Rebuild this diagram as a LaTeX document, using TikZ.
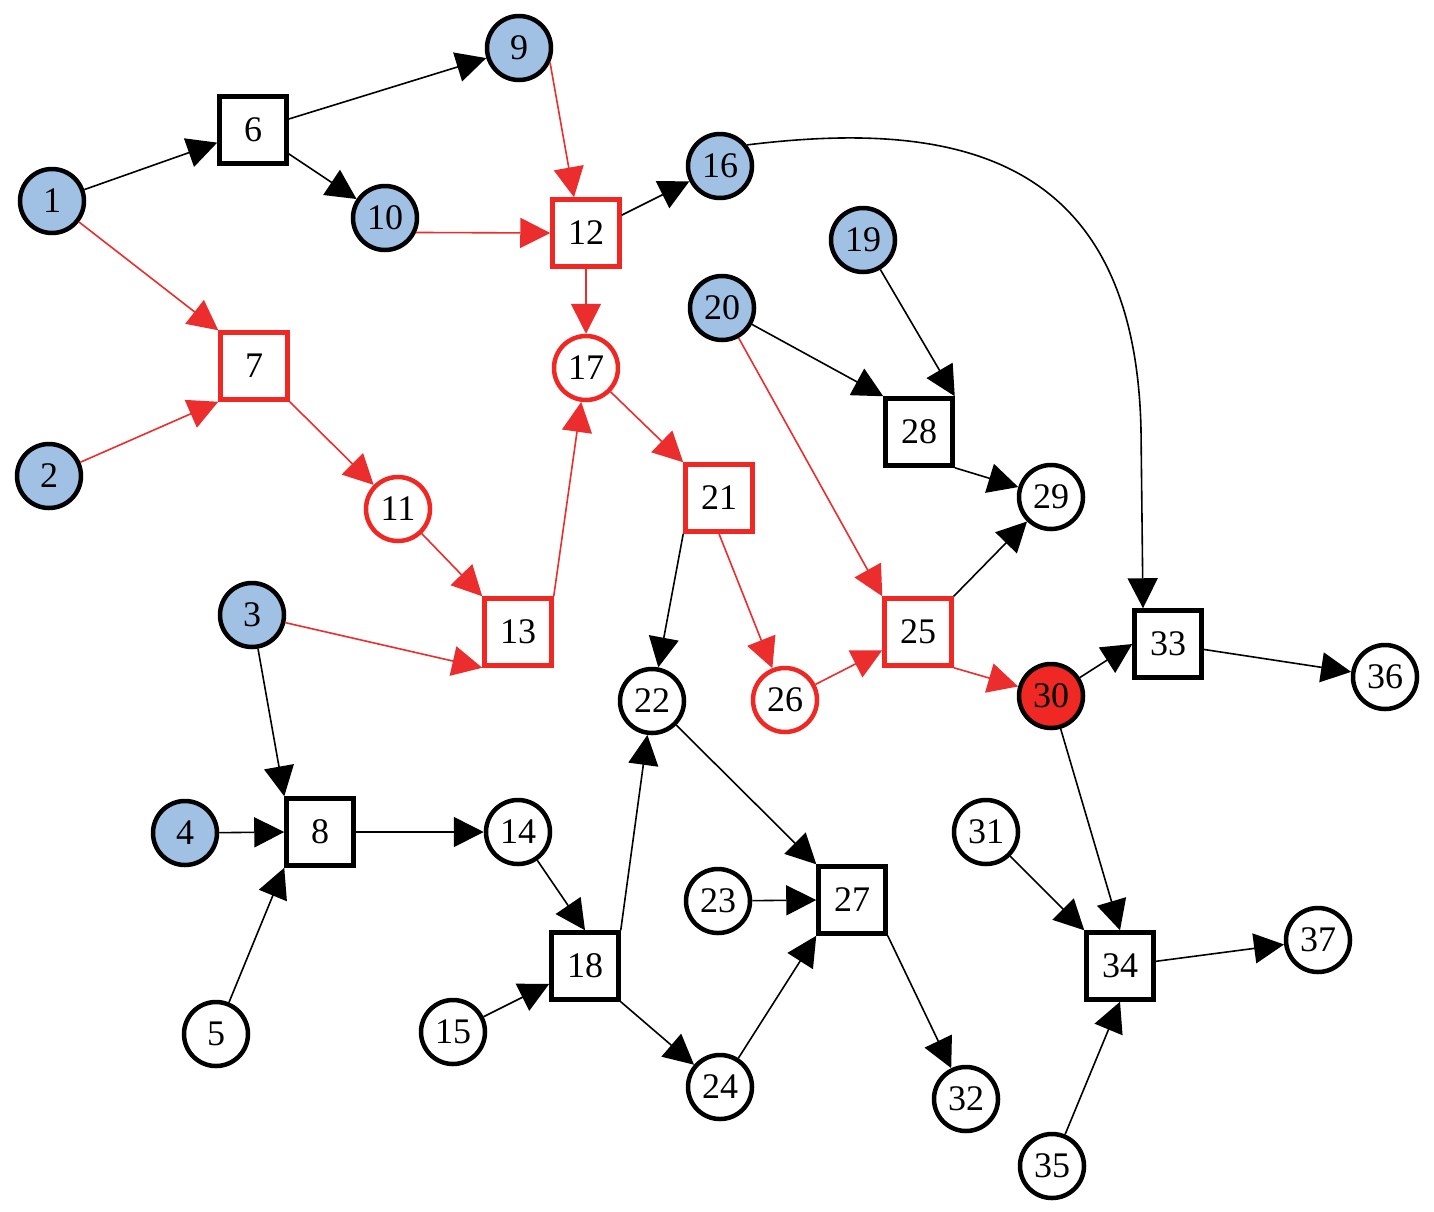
\documentclass[tikz,border=0pt]{standalone}
\usepackage{fontspec}
\setmainfont{Liberation Serif}
\usetikzlibrary{arrows.meta}
\definecolor{nblue}{RGB}{160,192,228}
\definecolor{nred}{RGB}{240,40,35}
\definecolor{ered}{RGB}{235,45,45}
\tikzset{
  base/.style={draw=black,line width=4.5pt,inner sep=0pt,font=\fontsize{36}{36}\selectfont,fill=white},
  circ/.style={base,circle,minimum size=64pt},
  sq/.style={base,rectangle,minimum size=67pt},
  src/.style={circ,fill=nblue},
  rcirc/.style={circ,draw=nred},
  rsq/.style={sq,draw=nred},
  hot/.style={circ,fill=nred},
  edge/.style={line width=1.6pt,draw=black,-{Triangle[length=30pt,width=30pt]}},
  redge/.style={edge,draw=ered,-{Triangle[length=30pt,width=30pt,fill=ered]}},
}
\begin{document}
\begin{tikzpicture}[x=1pt,y=-1pt]
\useasboundingbox (0,0) rectangle (1434,1211);
% nodes
\node[src] (n1) at (52,201) {1};
\node[src] (n2) at (49,476) {2};
\node[src] (n3) at (252,615) {3};
\node[src] (n4) at (185,833) {4};
\node[circ] (n5) at (216,1034) {5};
\node[sq] (n6) at (253,130) {6};
\node[rsq] (n7) at (254,366) {7};
\node[sq] (n8) at (320,832) {8};
\node[src] (n9) at (519,48) {9};
\node[src] (n10) at (385,218) {10};
\node[rcirc] (n11) at (398,509) {11};
\node[rsq] (n12) at (586,233) {12};
\node[rsq] (n13) at (518,632) {13};
\node[circ] (n14) at (518,832) {14};
\node[circ] (n15) at (453,1032) {15};
\node[src] (n16) at (720,166) {16};
\node[rcirc] (n17) at (586,368) {17};
\node[sq] (n18) at (585,966) {18};
\node[src] (n19) at (863,240) {19};
\node[src] (n20) at (722,308) {20};
\node[rsq] (n21) at (719,498) {21};
\node[circ] (n22) at (652,701) {22};
\node[circ] (n23) at (718,901) {23};
\node[circ] (n24) at (720,1087) {24};
\node[rsq] (n25) at (918,632) {25};
\node[rcirc] (n26) at (785,700) {26};
\node[sq] (n27) at (852,900) {27};
\node[sq] (n28) at (919,432) {28};
\node[circ] (n29) at (1051,497) {29};
\node[hot] (n30) at (1051,696) {30};
\node[circ] (n31) at (986,832) {31};
\node[circ] (n32) at (966,1099) {32};
\node[sq] (n33) at (1168,644) {33};
\node[sq] (n34) at (1120,966) {34};
\node[circ] (n35) at (1052,1166) {35};
\node[circ] (n36) at (1385,677) {36};
\node[circ] (n37) at (1318,940) {37};
% black edges
\draw[edge] (n1) -- (n6);
\draw[edge] (n6) -- (n9);
\draw[edge] (n6) -- (n10);
\draw[edge] (n12) -- (n16);
\draw[edge] (n21.south west) -- (n22);
\draw[edge] (n20) -- (n28.north west);
\draw[edge] (n19) -- (n28.north east);
\draw[edge] (n28.south east) -- (n29);
\draw[edge] (n25.north east) -- (n29);
\draw[edge] (n16.38) .. controls (950,120) and (1135,150) .. (1141,430) -- ([xshift=-25pt]n33.north);
\draw[edge] (n30) -- (n33.west);
\draw[edge] (n30) -- (n34.north);
\draw[edge] (n33) -- (n36);
\draw[edge] (n3) -- (n8.north west);
\draw[edge] (n4) -- (n8.west);
\draw[edge] (n5) -- (n8.south west);
\draw[edge] (n8) -- (n14);
\draw[edge] (n14) -- (n18.north);
\draw[edge] (n15) -- (n18);
\draw[edge] (n18.north east) -- (n22);
\draw[edge] (n18.south east) -- (n24);
\draw[edge] (n22) -- (n27.north west);
\draw[edge] (n23) -- (n27.west);
\draw[edge] (n24) -- (n27.south west);
\draw[edge] (n27.south east) -- (n32);
\draw[edge] (n31) -- (n34.north west);
\draw[edge] (n35) -- (n34.south);
\draw[edge] (n34) -- (n37);
% red edges
\draw[redge] (n1) -- (n7.north west);
\draw[redge] (n2) -- (n7.south west);
\draw[redge] (n9.-25) -- ([xshift=-12pt]n12.north);
\draw[redge] (n10.-25) -- (n12.west);
\draw[redge] (n12) -- (n17);
\draw[redge] (n7.south east) -- (n11);
\draw[redge] (n11) -- (n13.north west);
\draw[redge] (n3) -- (n13.south west);
\draw[redge] (n13.north east) -- (n17);
\draw[redge] (n17) -- (n21.north west);
\draw[redge] (n21.south) -- (n26);
\draw[redge] (n26) -- (n25);
\draw[redge] (n20) -- (n25.north west);
\draw[redge] (n25.south east) -- (n30);
\end{tikzpicture}
\end{document}
